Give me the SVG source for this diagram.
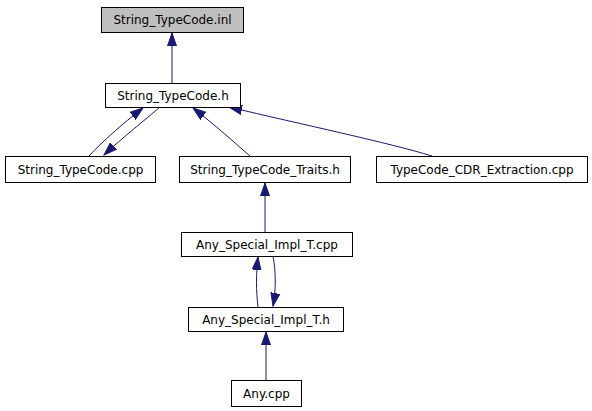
<svg xmlns="http://www.w3.org/2000/svg" width="592" height="411" viewBox="0 0 592 411">
<style>
.n rect{fill:#fff;stroke:#000;stroke-width:1}
.n text{font-family:"DejaVu Sans","Liberation Sans",sans-serif;font-size:12px;text-anchor:middle;fill:#000}
.e path{fill:none;stroke:#191970;stroke-width:1;marker-end:url(#a)}
</style>
<defs>
<marker id="a" markerWidth="14" markerHeight="10" refX="13" refY="5" orient="auto" markerUnits="userSpaceOnUse">
<path d="M0,0.5 L13,5 L0,9.5 z" fill="#191970" stroke="#191970" stroke-width="1"/>
</marker>
</defs>
<rect width="592" height="411" fill="#fff"/>
<g class="e">
<path d="M172,83 L172,33"/>
<path d="M89,156 C102,142 122,124 143,108"/>
<path d="M160,107 C145,120 122,138 104,155"/>
<path d="M250,156 C235,143 215,125 193,108"/>
<path d="M432,156 C390,143 300,124 229,107"/>
<path d="M265,232 L265,183"/>
<path d="M258,307 C256,290 256,275 258,257"/>
<path d="M273,256 C276,272 276,290 273,306"/>
<path d="M266,380 L266,332"/>
</g>
<g id="inl" class="n"><rect x="101.5" y="7.5" width="142" height="25" style="fill:#bfbfbf"/><text x="172.5" y="24">String_TypeCode.inl</text></g>
<g id="h" class="n"><rect x="105.5" y="83.5" width="135" height="24"/><text x="173" y="100">String_TypeCode.h</text></g>
<g id="cpp" class="n"><rect x="5.5" y="156.5" width="150" height="26"/><text x="80.5" y="174">String_TypeCode.cpp</text></g>
<g id="traits" class="n"><rect x="179.5" y="156.5" width="171" height="26"/><text x="265" y="174">String_TypeCode_Traits.h</text></g>
<g id="cdr" class="n"><rect x="376.5" y="156.5" width="211" height="26"/><text x="482" y="174">TypeCode_CDR_Extraction.cpp</text></g>
<g id="asicpp" class="n"><rect x="181.5" y="232.5" width="171" height="24"/><text x="267" y="249">Any_Special_Impl_T.cpp</text></g>
<g id="asih" class="n"><rect x="188.5" y="307.5" width="155" height="24"/><text x="266" y="324">Any_Special_Impl_T.h</text></g>
<g id="any" class="n"><rect x="231.5" y="380.5" width="70" height="26"/><text x="266.5" y="398">Any.cpp</text></g>
</svg>
